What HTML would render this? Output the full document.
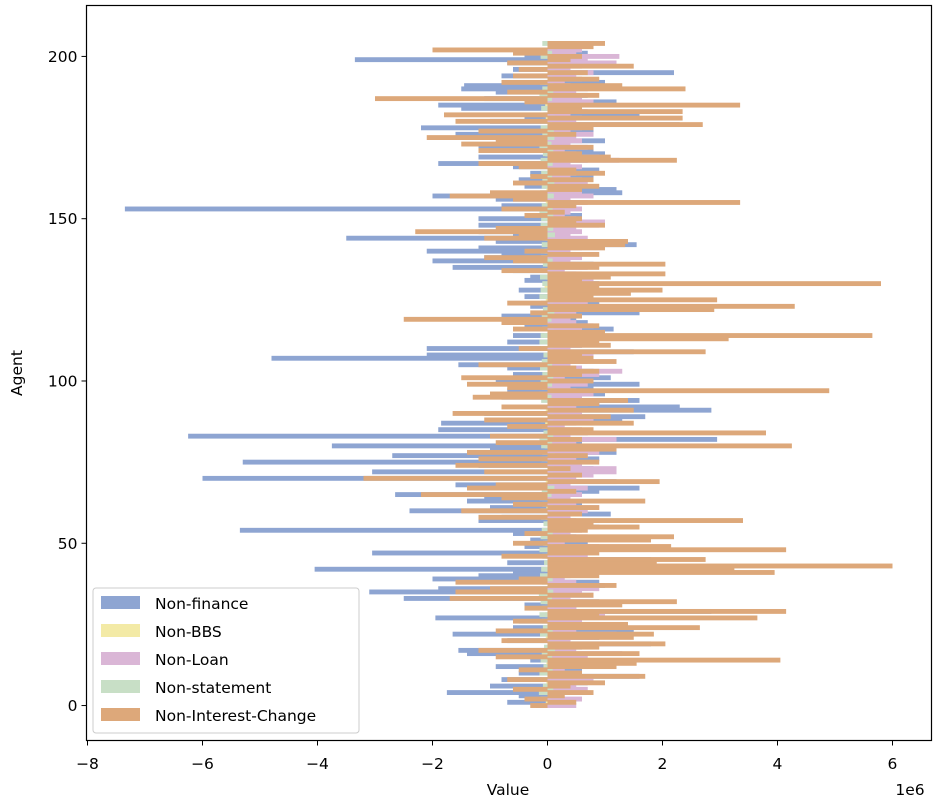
<!DOCTYPE html>
<html><head><meta charset="utf-8"><style>
html,body{margin:0;padding:0;background:#fff;}
svg{display:block;font-family:"DejaVu Sans","Liberation Sans",sans-serif;}
</style></head><body>
<svg id="chart" width="939" height="801" viewBox="0 0 939 801">
<rect x="0" y="0" width="939" height="801" fill="#fff"/>
<g id="bars"></g>
<rect x="86.5" y="5.5" width="845" height="735" fill="none" stroke="#000" stroke-width="1.2"/>
<g id="xticks"></g>
<g id="yticks"></g>
<text x="508" y="795" font-size="15.5" text-anchor="middle">Value</text>
<text x="910" y="795" font-size="15.5" text-anchor="middle">1e6</text>
<text transform="translate(22,373) rotate(-90)" font-size="15.5" text-anchor="middle">Agent</text>
<g id="legend">
<rect x="93" y="588" width="266" height="145" rx="3" fill="#fff" fill-opacity="0.8" stroke="#ccc"/>
</g>
</svg>
<script>
const categories = Array.from({length:205},(_, i)=>i);
const seriesNames = ["Non-finance","Non-BBS","Non-Loan","Non-statement","Non-Interest-Change"];
const seriesColors = ["#8ea5d2","#f3eaa6","#dab6d6","#c8dfc6","#dda87a"];
const xTicks = [-8,-6,-4,-2,0,2,4,6];
const yTicks = [0,50,100,150,200];
const finance = [
-0.2,-0.7,0.3,-0.5,-1.75,0.4,-1.0,0.7,-0.8,1.6,
-0.5,0.6,-0.9,0.8,-0.3,0.5,-1.4,-1.55,0.6,1.8,
-0.7,0.9,-1.65,1.5,-0.6,0.4,-0.5,-1.95,0.7,2.85,
0.5,-0.4,0.9,-2.5,0.8,-3.1,-1.9,1.0,0.9,-2.0,
-1.2,-0.6,-4.05,0.5,-0.7,1.8,0.6,-3.05,0.8,-0.4,
0.7,-0.3,0.5,-0.6,-5.35,0.9,0.4,-1.2,-0.8,1.1,
-2.4,-1.0,0.6,-1.4,-1.1,-2.65,0.9,1.6,-1.6,1.2,
-6.0,0.5,-3.05,0.8,-1.2,-5.3,0.9,-2.7,1.2,-1.0,
-3.75,0.6,2.95,-6.25,0.7,-1.9,-0.6,-1.85,1.3,1.7,
-1.1,2.85,2.3,0.9,1.6,-0.8,1.0,-0.7,0.8,1.6,
-0.9,1.1,-0.6,0.8,-0.7,-1.55,0.5,-4.8,-2.1,1.5,
-2.1,0.6,-0.7,0.9,-0.6,1.0,1.15,-0.4,0.7,0.5,
-0.8,1.6,0.5,-0.3,0.9,0.6,-0.4,0.8,-0.5,0.7,
0.9,-0.4,-0.3,0.5,-0.6,-1.65,0.8,-2.0,-1.1,-0.8,
-2.1,-1.2,1.55,-0.9,-3.5,-0.6,-1.2,-0.4,-1.2,0.5,
-1.2,0.6,0.4,-7.35,-0.8,0.5,-0.9,-2.0,1.3,1.2,
-0.4,0.6,-0.5,0.8,-0.3,0.9,-0.6,-1.9,0.7,-1.2,
1.0,0.8,-1.2,-0.7,1.0,-0.5,-1.6,0.8,-2.2,2.3,
-1.0,-0.4,1.6,0.5,-1.5,-1.9,1.2,-1.1,0.7,-0.9,
-1.5,-1.45,1.0,0.5,-0.8,2.2,-0.6,0.4,-0.7,-3.35,
-0.4,0.7,-0.5,0.3,0.5];
const bbs = [
0.05,-0.03,0.04,0.02,-0.05,0.03,0.06,-0.02,0.04,0.05,
-0.04,0.03,0.05,-0.02,0.04,0.06,0.03,-0.05,0.02,0.04,
0.05,-0.03,0.04,0.06,-0.02,0.03,0.05,0.04,-0.04,0.02,
0.08,0.03,-0.05,0.04,0.06,-0.03,0.02,0.05,0.04,-0.02,
0.03,0.05,-0.04,0.06,0.02,0.04,-0.03,0.05,0.03,0.04,
-0.05,0.02,0.06,0.03,-0.04,0.05,0.02,0.04,-0.03,0.06,
0.03,-0.02,0.05,0.04,0.02,-0.06,0.03,0.05,0.04,-0.03,
0.02,0.06,-0.04,0.03,0.05,0.02,-0.03,0.04,0.06,0.03,
-0.05,0.02,0.04,0.03,-0.02,0.05,0.06,-0.04,0.03,0.02,
0.04,-0.03,0.05,0.02,0.06,-0.04,0.03,0.05,-0.02,0.04,
0.03,0.05,-0.04,0.02,0.06,0.03,-0.05,0.04,0.02,0.03,
-0.03,0.05,0.04,0.02,-0.06,0.03,0.05,0.04,-0.02,0.03,
0.06,-0.04,0.02,0.05,0.03,-0.03,0.04,0.06,0.02,-0.05,
0.03,0.04,-0.02,0.05,0.03,0.06,-0.04,0.02,0.04,0.03,
-0.05,0.06,0.03,0.02,-0.04,0.05,0.03,0.04,-0.02,0.06,
0.03,-0.05,0.04,0.02,0.05,-0.03,0.06,0.03,0.04,-0.02,
0.05,0.03,-0.04,0.02,0.06,0.04,-0.03,0.05,0.02,0.03,
-0.04,0.06,0.03,0.05,-0.02,0.04,0.03,0.06,-0.05,0.02,
0.04,-0.03,0.05,0.03,0.02,-0.04,0.06,0.03,0.05,-0.02,
0.04,0.03,-0.05,0.06,0.02,0.04,-0.03,0.05,0.03,0.04,
0.02,0.05,-0.03,0.04,0.06];
const loan = [
0.5,0.3,0.6,0.2,0.4,0.7,0.5,0.3,0.8,0.4,
0.6,0.3,0.5,0.9,0.4,0.7,1.3,0.5,0.6,1.0,
0.4,0.8,1.2,0.5,0.3,0.9,0.6,0.4,1.0,0.8,
0.5,0.3,0.7,0.4,0.8,0.6,0.9,0.7,0.5,0.3,
0.4,0.6,0.3,0.5,0.8,0.4,0.7,0.5,0.6,0.9,
0.3,0.5,0.7,0.4,0.6,0.3,0.8,0.5,0.4,0.6,
0.7,0.9,0.5,0.3,0.4,0.6,0.5,0.7,0.4,0.3,
0.5,0.8,1.2,1.2,0.6,0.4,0.5,0.7,0.9,0.6,
0.3,0.5,1.2,0.4,0.7,0.6,0.3,0.5,0.8,0.4,
0.6,0.4,0.5,0.7,0.3,0.6,0.8,0.5,0.4,0.7,
0.5,0.3,0.9,1.3,0.6,0.4,0.7,0.5,0.8,0.3,
0.4,0.6,0.5,0.3,0.7,0.4,0.6,0.8,0.5,0.4,
0.3,0.5,0.6,0.4,0.7,0.5,0.3,0.6,0.4,0.7,
0.5,0.8,0.4,0.6,0.3,0.7,0.5,0.4,0.6,0.5,
0.4,0.6,0.3,0.5,0.7,0.4,0.6,0.5,0.9,1.0,
0.5,0.3,0.4,0.6,0.5,0.7,0.4,0.8,0.6,0.3,
0.5,0.7,0.6,0.4,0.5,0.3,0.6,0.4,1.25,0.9,
0.5,0.3,0.7,0.4,0.6,0.5,0.8,0.4,0.6,0.3,
0.5,0.6,0.4,0.7,0.3,0.5,0.8,0.6,0.4,0.5,
0.7,0.4,0.3,0.6,0.5,0.8,0.4,0.6,1.2,0.7,
1.25,0.5,0.6,0.4,0.3];
const statement = [
-0.1,0.08,-0.12,0.05,-0.15,0.1,-0.08,0.12,-0.1,0.06,
-0.14,0.09,-0.07,0.11,-0.12,0.08,-0.1,0.13,-0.06,0.1,
-0.11,0.07,-0.13,0.09,-0.08,0.12,-0.1,0.06,-0.14,0.1,
-0.09,0.11,-0.12,0.08,-0.15,0.1,-0.07,0.12,-0.1,0.09,
-0.13,0.08,-0.11,0.1,-0.06,0.12,-0.09,0.07,-0.14,0.1,
-0.08,0.11,-0.12,0.09,-0.1,0.13,-0.07,0.1,-0.11,0.08,
-0.12,0.1,-0.09,0.11,-0.14,0.07,-0.1,0.12,-0.08,0.09,
-0.13,0.1,-0.07,0.11,-0.12,0.08,-0.1,0.13,-0.09,0.1,
-0.11,0.08,-0.14,0.1,-0.07,0.12,-0.1,0.09,-0.12,0.11,
-0.08,0.1,-0.13,0.09,-0.11,0.07,-0.15,0.12,-0.1,0.08,
-0.12,0.1,-0.09,0.11,-0.13,0.08,-0.1,0.12,-0.07,0.09,
-0.11,0.1,-0.14,0.08,-0.12,0.11,-0.09,0.1,-0.13,0.07,
-0.1,0.12,-0.08,0.09,-0.11,0.1,-0.14,0.08,-0.12,0.11,
-0.09,0.1,-0.13,0.07,-0.1,0.12,-0.08,0.09,-0.11,0.1,
-0.12,0.08,-0.1,0.11,-0.09,0.13,-0.07,0.1,-0.12,0.08,
-0.11,0.1,-0.14,0.09,-0.1,0.12,-0.08,0.11,-0.13,0.07,
-0.1,0.12,-0.09,0.08,-0.11,0.1,-0.13,0.09,-0.12,0.11,
-0.08,0.1,-0.14,0.07,-0.1,0.12,-0.09,0.11,-0.12,0.08,
-0.1,0.13,-0.07,0.1,-0.11,0.09,-0.12,0.08,-0.14,0.1,
-0.09,0.11,-0.13,0.08,-0.1,0.12,-0.07,0.1,-0.11,0.09,
-0.12,0.08,-0.1,0.11,-0.09];
const interest = [
-0.3,0.5,-0.4,0.3,0.8,-0.6,0.4,1.0,-0.7,1.7,
0.6,-0.5,1.2,1.55,4.05,-0.9,1.6,-1.2,0.9,2.05,
-0.8,1.5,1.85,-0.9,2.65,1.4,-0.6,3.65,0.9,4.15,
-0.4,1.3,2.25,-1.7,0.8,-1.6,-1.0,1.2,-1.6,-0.5,
0.9,3.95,3.25,6.0,1.9,2.75,-0.8,0.9,4.15,2.15,
-0.6,1.8,2.2,-0.4,0.7,1.6,0.8,3.4,-1.2,0.6,
-1.5,0.9,-0.6,1.7,-0.8,-2.2,0.5,-1.4,-0.9,1.95,
-3.2,0.6,-1.1,0.4,-1.6,0.9,-1.2,0.7,-1.4,1.2,
4.25,-0.9,0.6,-1.0,3.8,0.8,-0.7,1.5,-1.1,1.1,
-1.65,1.5,-0.8,0.9,1.4,-1.3,-1.0,4.9,-0.7,-1.4,
0.8,-1.5,0.6,0.9,0.5,-1.2,1.2,0.8,0.6,2.75,
-0.5,1.1,0.9,3.15,5.65,1.0,-0.6,0.9,-0.8,-2.5,
0.6,-0.3,2.9,4.3,-0.7,2.95,0.8,1.45,2.0,0.9,
5.8,0.6,1.1,2.05,-0.8,0.9,2.05,-0.6,-1.1,0.9,
-0.4,1.0,1.35,1.4,-1.1,-0.5,-2.3,-0.9,1.0,0.5,
0.6,-0.4,0.3,-0.8,0.5,3.35,-0.6,-1.7,-1.0,0.6,
0.9,-0.6,0.8,-0.3,1.0,0.5,-0.5,-1.2,2.25,1.1,
0.6,-1.2,0.8,-1.5,-0.9,-2.1,0.5,-1.2,0.8,2.7,
-1.6,2.35,-1.8,2.35,0.6,3.35,-0.4,-3.0,0.9,-0.7,
2.4,1.3,-0.8,0.9,-0.6,0.7,-0.5,1.5,-0.7,0.4,
0.6,-0.6,-2.0,0.8,1.0];

const NS="http://www.w3.org/2000/svg";
const L=86.5,R=931.5,T=5.5,B=740.5;
const xMin=-8.0174, xMax=6.6783;   // in 1e6
const yMin=-10.77, yMax=215.69;
function xs(v){return L+(v-xMin)/(xMax-xMin)*(R-L);}
function ys(v){return B-(v-yMin)/(yMax-yMin)*(B-T);}
const barH=1.5;
const series=[finance,bbs,loan,statement,interest];
const gb=document.getElementById('bars');
series.forEach((vals,s)=>{
  const g=document.createElementNS(NS,'g');
  
  
  vals.forEach((v,i)=>{
    const r=document.createElementNS(NS,'rect');
    const x0=xs(Math.min(0,v)), x1=xs(Math.max(0,v));
    const yTop=ys(categories[i]+barH/2), yBot=ys(categories[i]-barH/2);
    r.setAttribute('x',x0);r.setAttribute('width',Math.max(0,x1-x0));
    r.setAttribute('y',yTop);r.setAttribute('height',yBot-yTop);
    r.setAttribute('fill',seriesColors[s]);
    
    
    g.appendChild(r);
  });
  gb.appendChild(g);
});
const gx=document.getElementById('xticks');
xTicks.forEach(t=>{
  const x=xs(t);
  const l=document.createElementNS(NS,'line');
  l.setAttribute('x1',x);l.setAttribute('x2',x);l.setAttribute('y1',B);l.setAttribute('y2',B+5);
  l.setAttribute('stroke','#000');
  
  
  gx.appendChild(l);
  const tx=document.createElementNS(NS,'text');
  tx.setAttribute('x',x);tx.setAttribute('y',769);tx.setAttribute('font-size','15.5');tx.setAttribute('text-anchor','middle');
  tx.textContent=(t<0?'\u2212':'')+Math.abs(t);
  
  
  gx.appendChild(tx);
});
const gy=document.getElementById('yticks');
yTicks.forEach(t=>{
  const y=ys(t);
  const l=document.createElementNS(NS,'line');
  l.setAttribute('x1',L-5);l.setAttribute('x2',L);l.setAttribute('y1',y);l.setAttribute('y2',y);
  l.setAttribute('stroke','#000');
  
  
  gy.appendChild(l);
  const tx=document.createElementNS(NS,'text');
  tx.setAttribute('x',L-9);tx.setAttribute('y',y+5.5);tx.setAttribute('font-size','15.5');tx.setAttribute('text-anchor','end');
  tx.textContent=t;
  
  
  gy.appendChild(tx);
});
const gl=document.getElementById('legend');
seriesNames.forEach((n,k)=>{
  const y=603+k*28;
  const r=document.createElementNS(NS,'rect');
  r.setAttribute('x',101);r.setAttribute('y',y-7);r.setAttribute('width',39);r.setAttribute('height',13);
  r.setAttribute('fill',seriesColors[k]);
  
  
  gl.appendChild(r);
  const tx=document.createElementNS(NS,'text');
  tx.setAttribute('x',155);tx.setAttribute('y',y+6);tx.setAttribute('font-size','15.5');
  tx.textContent=n;
  
  
  gl.appendChild(tx);
});
</script>
</body></html>
